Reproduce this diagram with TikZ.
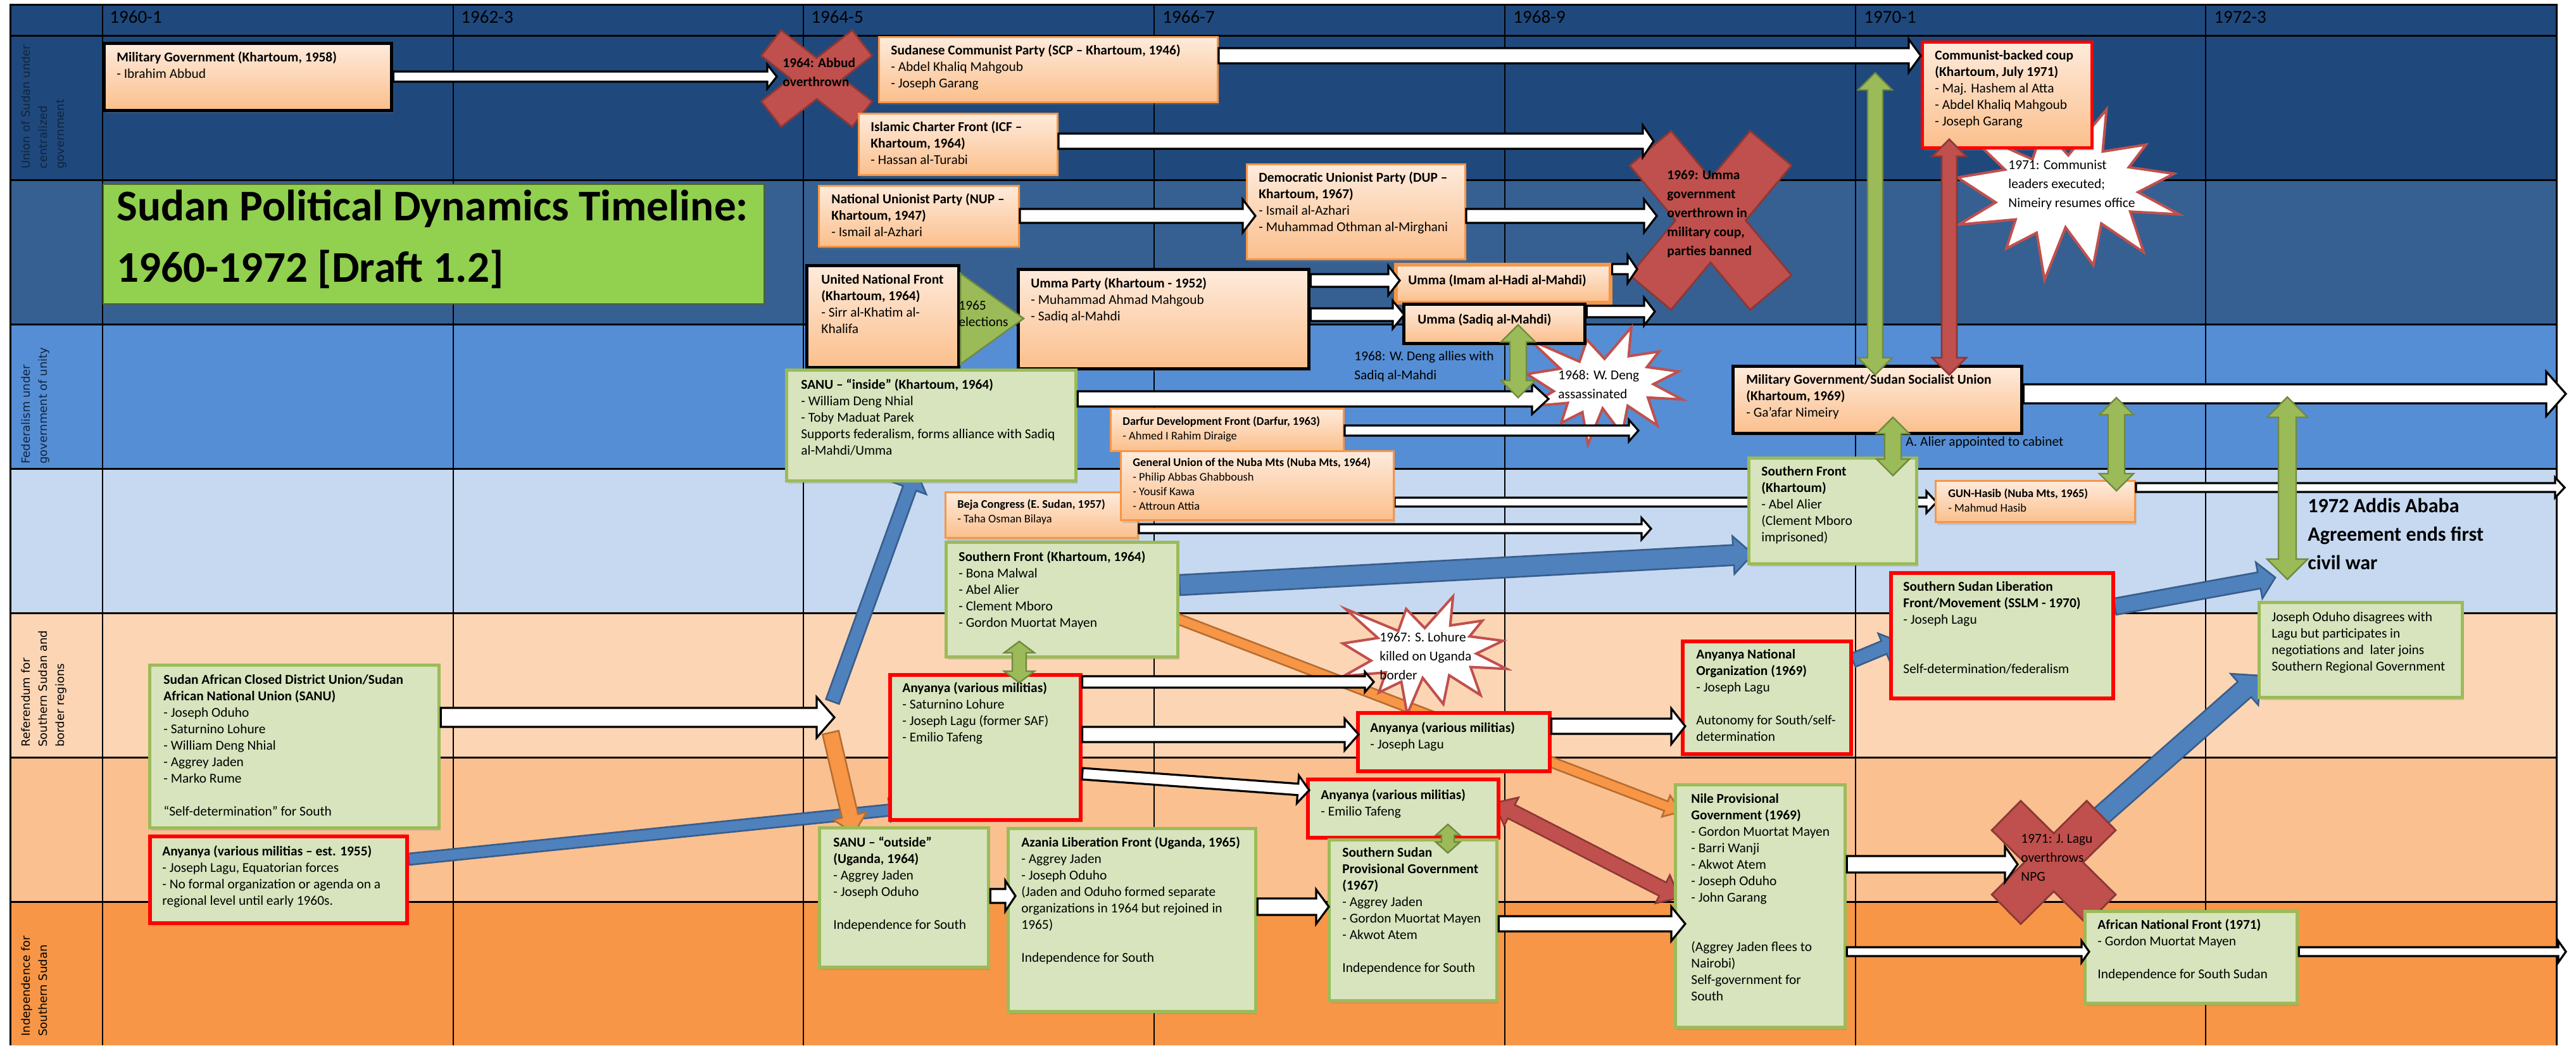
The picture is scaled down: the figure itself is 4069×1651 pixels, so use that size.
\documentclass[tikz,border=0pt]{standalone}
\usepackage{fontspec}
\setmainfont{Carlito}
\newfontfamily\labfam{DejaVu Sans}
\usetikzlibrary{calc,shadows}
\pgfdeclarelayer{back}
\pgfdeclarelayer{mid}
\pgfsetlayers{back,mid,main}
\definecolor{hdr}{HTML}{1F497D}
\definecolor{bandB}{HTML}{366092}
\definecolor{bandC}{HTML}{558ED5}
\definecolor{bandD}{HTML}{C6D9F1}
\definecolor{bandE}{HTML}{FCD5B5}
\definecolor{bandF}{HTML}{FAC090}
\definecolor{bandG}{HTML}{F79646}
\definecolor{otop}{HTML}{FEEBDC}
\definecolor{obot}{HTML}{FBBF8C}
\definecolor{oline}{HTML}{F79646}
\definecolor{gfill}{HTML}{D7E4BD}
\definecolor{gline}{HTML}{9BBB59}
\definecolor{gdark}{HTML}{71893F}
\definecolor{bfill}{HTML}{4F81BD}
\definecolor{bline}{HTML}{385D8A}
\definecolor{ofill}{HTML}{F79646}
\definecolor{oedge}{HTML}{B66D31}
\definecolor{rfill}{HTML}{C0504D}
\definecolor{redge}{HTML}{8C3836}
\definecolor{titleg}{HTML}{92D050}
\definecolor{titleline}{HTML}{4F6228}
\definecolor{labnavy}{HTML}{10243E}
\newcommand\fBody{\fontsize{10.7}{13}\selectfont}
\newcommand\fSmall{\fontsize{9.2}{11.6}\selectfont}
\newcommand\fCall{\fontsize{10.7}{15}\selectfont}
\newcommand\fBig{\fontsize{16}{22.5}\selectfont\bfseries}
\newcommand\fTitle{\fontsize{34.6}{48.5}\selectfont\bfseries}
\newcommand\fHdr{\fontsize{14.5}{17}\selectfont}
\newcommand\fLab{\labfam\fontsize{9}{13.5}\selectfont}
\newcommand\arrowsetup[5]{%
  \path (#1); \pgfgetlastxy{\baXa}{\baYa}%
  \path (#2); \pgfgetlastxy{\baXb}{\baYb}%
  \pgfmathsetmacro\bxa{(\baXa)/0.5}%
  \pgfmathsetmacro\bya{0-(\baYa)/0.5}%
  \pgfmathsetmacro\bxb{(\baXb)/0.5}%
  \pgfmathsetmacro\byb{0-(\baYb)/0.5}%
  \pgfmathsetmacro\bdx{\bxb-(\bxa)}%
  \pgfmathsetmacro\bdy{\byb-(\bya)}%
  \pgfmathsetmacro\bln{veclen(\bdx,\bdy)}%
  \pgfmathsetmacro\bux{(\bdx)/\bln}%
  \pgfmathsetmacro\buy{(\bdy)/\bln}%
  \pgfmathsetmacro\bsx{(#3)*(\buy)}%
  \pgfmathsetmacro\bsy{(#3)*(\bux)}%
  \pgfmathsetmacro\bHx{(#4)*(\buy)}%
  \pgfmathsetmacro\bHy{(#4)*(\bux)}%
  \pgfmathsetmacro\bhx{\bxb-(#5)*(\bux)}%
  \pgfmathsetmacro\bhy{\byb-(#5)*(\buy)}%
  \pgfmathsetmacro\btx{\bxa+(#5)*(\bux)}%
  \pgfmathsetmacro\bty{\bya+(#5)*(\buy)}}
\newcommand\blkarrow[6][]{%
  \arrowsetup{#2}{#3}{#4}{#5}{#6}%
  \draw[#1] ({\bxa-(\bsx)},{\bya+(\bsy)}) -- ({\bhx-(\bsx)},{\bhy+(\bsy)}) -- ({\bhx-(\bHx)},{\bhy+(\bHy)}) -- (\bxb,\byb) -- ({\bhx+(\bHx)},{\bhy-(\bHy)}) -- ({\bhx+(\bsx)},{\bhy-(\bsy)}) -- ({\bxa+(\bsx)},{\bya-(\bsy)}) -- cycle;}
\newcommand\dblarrow[6][]{%
  \arrowsetup{#2}{#3}{#4}{#5}{#6}%
  \draw[#1] (\bxa,\bya) -- ({\btx-(\bHx)},{\bty+(\bHy)}) -- ({\btx-(\bsx)},{\bty+(\bsy)}) -- ({\bhx-(\bsx)},{\bhy+(\bsy)}) -- ({\bhx-(\bHx)},{\bhy+(\bHy)}) -- (\bxb,\byb) -- ({\bhx+(\bHx)},{\bhy-(\bHy)}) -- ({\bhx+(\bsx)},{\bhy-(\bsy)}) -- ({\btx+(\bsx)},{\bty-(\bsy)}) -- ({\btx+(\bHx)},{\bty-(\bHy)}) -- cycle;}
\newcommand\xshape[5]{%
  \draw[redge, line width=#5*0.5pt] (#1-#3,#2-#4) -- (#1+#3,#2+#4);
  \draw[redge, line width=#5*0.5pt] (#1+#3,#2-#4) -- (#1-#3,#2+#4);
  \draw[rfill, line width=#5*0.5pt-3pt, shorten <=1.5pt, shorten >=1.5pt] (#1-#3,#2-#4) -- (#1+#3,#2+#4);
  \draw[rfill, line width=#5*0.5pt-3pt, shorten <=1.5pt, shorten >=1.5pt] (#1+#3,#2-#4) -- (#1-#3,#2+#4);}
\newcommand\boom[4]{%
  \begin{scope}[shift={(#1,#2)},xscale=#3/100,yscale=#4/100]
  \draw[fill=white, draw=rfill, line width=2pt, line join=miter, miter limit=6] (50,26.85) -- (67.23,0) -- (65.53,24.65) -- (85.09,20.63) -- (77.32,33.87) -- (97.67,37.67) -- (81.51,48.50) -- (100,61.53) -- (77.95,59.92) -- (84.00,83.77) -- (64.91,66.93) -- (61.33,91.38) -- (48.76,69.14) -- (39.28,100) -- (35.72,72.35) -- (22.05,81.56) -- (26.24,64.52) -- (0.63,67.53) -- (17.23,54.51) -- (0,39.88) -- (21.42,35.26) -- (1.71,10.63) -- (33.85,29.26) -- (38.67,10.63) -- cycle;
  \end{scope}}
\begin{document}
\begin{tikzpicture}[x=0.5pt,y=-0.5pt]
\tikzset{
 boxat/.style n args={4}{anchor=north west, inner sep=0pt, minimum width={(#3-#1)*0.5pt}, minimum height={(#4-#2)*0.5pt}, at={(#1,#2)}},
 shad/.style={drop shadow={shadow xshift=1pt, shadow yshift=-2pt, opacity=0.25}},
 obox/.style={shad, draw=oline, line width=1.5pt, top color=otop, bottom color=obot},
 kbox/.style={shad, draw=black, line width=2.6pt, top color=otop, bottom color=obot},
 ibox/.style={shad, draw=oline, line width=2.8pt, top color=otop, bottom color=obot},
 cbox/.style={shad, draw=red, line width=2.6pt, top color=otop, bottom color=obot},
 gbox/.style={shad, draw=gline, line width=2.6pt, fill=gfill},
 rbox/.style={shad, draw=red, line width=2.8pt, fill=gfill},
 titlebox/.style={draw=titleline, line width=0.8pt, fill=titleg},
 txtb/.style={anchor=north west, align=left, inner sep=0pt, font=\fBody, execute at begin node=\strut},
 txts/.style={anchor=north west, align=left, inner sep=0pt, font=\fSmall, execute at begin node=\strut},
 txtc/.style={anchor=north west, align=left, inner sep=0pt, font=\fCall, execute at begin node=\strut},
 labl/.style={rotate=90, anchor=north west, align=left, inner sep=0pt, font=\fLab, execute at begin node=\strut},
 warr/.style={fill=white, draw=black, line width=1.6pt, line join=miter},
 barr/.style={fill=bfill, draw=bline, line width=1.3pt, line join=miter},
 oarr/.style={fill=ofill, draw=oedge, line width=1.3pt, line join=miter},
 rarr/.style={fill=rfill, draw=redge, line width=1.3pt, line join=miter},
 garr/.style={fill=gline, draw=gdark, line width=1.2pt, line join=miter},
}
\useasboundingbox (0,0) rectangle (4069,1651);
% ---------------- background grid
\begin{pgfonlayer}{back}
\fill[white] (0,0) rectangle (4069,1651);
\fill[hdr] (16,7) rectangle (4038,284);
\fill[bandB] (16,284) rectangle (4038,512);
\fill[bandC] (16,512) rectangle (4038,740);
\fill[bandD] (16,740) rectangle (4038,968);
\fill[bandE] (16,968) rectangle (4038,1196);
\fill[bandF] (16,1196) rectangle (4038,1424);
\fill[bandG] (16,1424) rectangle (4038,1651);
\foreach \yy in {56,284,512,740,968,1196,1424} \draw[line width=1.5pt] (16,\yy) -- (4038,\yy);
\foreach \xx in {162,716,1269,1823,2377,2931,3484} \draw[line width=1pt] (\xx,7) -- (\xx,1651);
\draw[line width=1.5pt] (16,1651) -- (16,7) -- (4038,7) -- (4038,1651);
\foreach \xx/\tt in {173/1960-1,728/1962-3,1281/1964-5,1836/1966-7,2390/1968-9,2944/1970-1,3497/1972-3}
  \node[anchor=base west, inner sep=0pt, font=\fHdr] (yr\xx) at (\xx,36) {\tt};
\node[labl, text=labnavy] (lab1) at (33,267) {Union of Sudan under\\centralized\\government};
\node[labl, text=labnavy] (lab3) at (33,733) {Federalism under\\government of unity};
\node[labl] (lab5) at (33,1180) {Referendum for\\Southern Sudan and\\border regions};
\node[labl] (lab7) at (33,1637) {Independence for\\Southern Sudan};
\node[titlebox, boxat={162}{290}{1206}{479}] (title) {};
\node[anchor=north west, align=left, inner sep=0pt, font=\fTitle, execute at begin node=\strut] (title-t) at (184,299) {Sudan Political Dynamics Timeline:\\1960-1972 [Draft 1.2]};
\end{pgfonlayer}
% ---------------- boxes
\node[kbox, boxat={162}{66}{616}{172}] (mil58) {};
\node[txtb] (mil58-t) at (184,81) {\textbf{Military Government (Khartoum, 1958)}\\- Ibrahim Abbud};
\node[obox, boxat={1387}{57}{1922}{160}] (scp) {};
\node[txtb] (scp-t) at (1407,70) {\textbf{Sudanese Communist Party (SCP – Khartoum, 1946)}\\- Abdel Khaliq Mahgoub\\- Joseph Garang};
\node[obox, boxat={1355}{178}{1669}{275}] (icf) {};
\node[txtb] (icf-t) at (1375,191) {\textbf{Islamic Charter Front (ICF –}\\\textbf{Khartoum, 1964)}\\- Hassan al-Turabi};
\node[obox, boxat={1292}{292}{1608}{388}] (nup) {};
\node[txtb] (nup-t) at (1313,305) {\textbf{National Unionist Party (NUP –}\\\textbf{Khartoum, 1947)}\\- Ismail al-Azhari};
\node[obox, boxat={1968}{258}{2313}{408}] (dup) {};
\node[txtb] (dup-t) at (1988,271) {\textbf{Democratic Unionist Party (DUP –}\\\textbf{Khartoum, 1967)}\\- Ismail al-Azhari\\- Muhammad Othman al-Mirghani};
\node[kbox, boxat={1272}{417}{1512}{578}] (unf) {};
\node[txtb] (unf-t) at (1297,433) {\textbf{United National Front}\\\textbf{(Khartoum, 1964)}\\- Sirr al-Khatim al-\\Khalifa};
\node[kbox, boxat={1606}{423}{2065}{580}] (umma) {};
\node[txtb] (umma-t) at (1628,438) {\textbf{Umma Party (Khartoum - 1952)}\\- Muhammad Ahmad Mahgoub\\- Sadiq al-Mahdi};
\node[ibox, boxat={2202}{415}{2541}{475}] (imam) {};
\node[txtb] (imam-t) at (2224,431) {\textbf{Umma (Imam al-Hadi al-Mahdi)}};
\node[kbox, boxat={2215}{478}{2501}{540}] (sadiq) {};
\node[txtb] (sadiq-t) at (2239,493) {\textbf{Umma (Sadiq al-Mahdi)}};
\node[cbox, boxat={3034}{64}{3302}{231}] (coup) {};
\node[txtb] (coup-t) at (3056,79) {\textbf{Communist-backed coup}\\\textbf{(Khartoum, July 1971)}\\- Maj. Hashem al Atta\\- Abdel Khaliq Mahgoub\\- Joseph Garang};
\node[kbox, boxat={2735}{576}{3191}{682}] (milssu) {};
\node[txtb] (milssu-t) at (2758,591) {\textbf{Military Government/Sudan Socialist Union}\\\textbf{(Khartoum, 1969)}\\- Ga’afar Nimeiry};
\node[gbox, boxat={1240}{582}{1697}{757}] (sanuin) {};
\node[txtb] (sanuin-t) at (1265,598) {\textbf{SANU – “inside” (Khartoum, 1964)}\\- William Deng Nhial\\- Toby Maduat Parek\\Supports federalism, forms alliance with Sadiq\\al-Mahdi/Umma};
\node[obox, boxat={1753}{644}{2121}{711}] (darfur) {};
\node[txts] (darfur-t) at (1773,657) {\textbf{Darfur Development Front (Darfur, 1963)}\\- Ahmed I Rahim Diraige};
\node[obox, boxat={1492}{776}{1796}{848}] (beja) {};
\node[txts] (beja-t) at (1512,788) {\textbf{Beja Congress (E. Sudan, 1957)}\\- Taha Osman Bilaya};
\node[obox, boxat={1769}{711}{2200}{820}] (gun) {};
\node[txts] (gun-t) at (1789,722) {\textbf{General Union of the Nuba Mts (Nuba Mts, 1964)}\\- Philip Abbas Ghabboush\\- Yousif Kawa\\- Attroun Attia};
\node[obox, boxat={3056}{758}{3371}{823}] (hasib) {};
\node[txts] (hasib-t) at (3077,771) {\textbf{GUN-Hasib (Nuba Mts, 1965)}\\- Mahmud Hasib};
\node[gbox, boxat={1492}{854}{1858}{1035}] (sf64) {};
\node[txtb] (sf64-t) at (1514,870) {\textbf{Southern Front (Khartoum, 1964)}\\- Bona Malwal\\- Abel Alier\\- Clement Mboro\\- Gordon Muortat Mayen};
\node[gbox, boxat={2760}{721}{3025}{888}] (sfk) {};
\node[txtb] (sfk-t) at (2782,736) {\textbf{Southern Front}\\\textbf{(Khartoum)}\\- Abel Alier\\(Clement Mboro\\imprisoned)};
\node[gbox, boxat={234}{1048}{691}{1305}] (sacdu) {};
\node[txtb] (sacdu-t) at (258,1065) {\textbf{Sudan African Closed District Union/Sudan}\\\textbf{African National Union (SANU)}\\- Joseph Oduho\\- Saturnino Lohure\\- William Deng Nhial\\- Aggrey Jaden\\- Marko Rume\\[13pt]“Self-determination” for South};
\node[rbox, boxat={234}{1318}{640}{1455}] (any55) {};
\node[txtb] (any55-t) at (256,1335) {\textbf{Anyanya (various militias – est. 1955)}\\- Joseph Lagu, Equatorian forces\\- No formal organization or agenda on a\\regional level until early 1960s.};
\node[rbox, boxat={1403}{1063}{1704}{1292}] (anym) {};
\node[txtb] (anym-t) at (1425,1077) {\textbf{Anyanya (various militias)}\\- Saturnino Lohure\\- Joseph Lagu (former SAF)\\- Emilio Tafeng};
\node[rbox, boxat={2142}{1123}{2445}{1215}] (anyl) {};
\node[txtb] (anyl-t) at (2164,1140) {\textbf{Anyanya (various militias)}\\- Joseph Lagu};
\node[rbox, boxat={2063}{1228}{2364}{1320}] (anyt) {};
\node[txtb] (anyt-t) at (2086,1246) {\textbf{Anyanya (various militias)}\\- Emilio Tafeng};
\node[rbox, boxat={2655}{1010}{2921}{1188}] (ano) {};
\node[txtb] (ano-t) at (2679,1025) {\textbf{Anyanya National}\\\textbf{Organization (1969)}\\- Joseph Lagu\\[13pt]Autonomy for South/self-\\determination};
\node[rbox, boxat={2984}{902}{3335}{1100}] (sslm) {};
\node[txtb] (sslm-t) at (3006,918) {\textbf{Southern Sudan Liberation}\\\textbf{Front/Movement (SSLM - 1970)}\\- Joseph Lagu\\[26pt]Self-determination/federalism};
\node[gbox, boxat={3566}{949}{3887}{1099}] (oduho) {};
\node[txtb] (oduho-t) at (3588,966) {Joseph Oduho disagrees with\\Lagu but participates in\\negotiations and \ later joins\\Southern Regional Government};
\node[gbox, boxat={1292}{1305}{1559}{1525}] (sanuout) {};
\node[txtb] (sanuout-t) at (1316,1321) {\textbf{SANU – “outside”}\\\textbf{(Uganda, 1964)}\\- Aggrey Jaden\\- Joseph Oduho\\[13pt]Independence for South};
\node[gbox, boxat={1590}{1306}{1981}{1595}] (azania) {};
\node[txtb] (azania-t) at (1613,1321) {\textbf{Azania Liberation Front (Uganda, 1965)}\\- Aggrey Jaden\\- Joseph Oduho\\(Jaden and Oduho formed separate\\organizations in 1964 but rejoined in\\1965)\\[13pt]Independence for South};
\node[gbox, boxat={2097}{1324}{2362}{1578}] (sspg) {};
\node[txtb] (sspg-t) at (2120,1338) {\textbf{Southern Sudan}\\\textbf{Provisional Government}\\\textbf{(1967)}\\- Aggrey Jaden\\- Gordon Muortat Mayen\\- Akwot Atem\\[13pt]Independence for South};
\node[gbox, boxat={2644}{1237}{2912}{1620}] (npg) {};
\node[txtb] (npg-t) at (2671,1253) {\textbf{Nile Provisional}\\\textbf{Government (1969)}\\- Gordon Muortat Mayen\\- Barri Wanji\\- Akwot Atem\\- Joseph Oduho\\- John Garang\\[26pt](Aggrey Jaden flees to\\Nairobi)\\Self-government for\\South};
\node[gbox, boxat={3291}{1437}{3626}{1582}] (anf) {};
\node[txtb] (anf-t) at (3313,1451) {\textbf{African National Front (1971)}\\- Gordon Muortat Mayen\\[13pt]Independence for South Sudan};
% ---------------- free ends
\coordinate (b1s) at (1315,1108); \coordinate (b1e) at (1447,743);
\coordinate (b4e) at (3594,912); \coordinate (b6s) at (3300,1305);
\coordinate (o1s) at (1312,1157); \coordinate (o1e) at (1349,1316);
\coordinate (e64) at (1227,121); \coordinate (e69a) at (2612,223); \coordinate (e69b) at (2617,341);
\coordinate (eimam) at (2586,425); \coordinate (esadiq) at (2614,492); \coordinate (esanu) at (2446,630);
\coordinate (edarfur) at (2588,680); \coordinate (ebeja) at (2608,835); \coordinate (ehasib) at (4051,770);
\coordinate (essu) at (4053,622); \coordinate (esacdu) at (1318,1133); \coordinate (eany) at (2170,1077);
\coordinate (enpg) at (3187,1365); \coordinate (eanf) at (4053,1503);
\coordinate (g1a) at (2398,513); \coordinate (g1b) at (2398,628);
\coordinate (g2a) at (2962,115); \coordinate (g2b) at (2962,592);
\coordinate (g3a) at (3079,220); \coordinate (g3b) at (3079,592);
\coordinate (g4a) at (2990,659); \coordinate (g4b) at (2990,751);
\coordinate (g5a) at (3343,628); \coordinate (g5b) at (3343,775);
\coordinate (g6a) at (3613,627); \coordinate (g6b) at (3613,915);
\coordinate (g7a) at (1610,1013); \coordinate (g7b) at (1610,1078);
\coordinate (g8a) at (2287,1302); \coordinate (g8b) at (2287,1347);
% ---------------- under-box layer
\begin{pgfonlayer}{mid}
\blkarrow[barr]{b1s}{b1e}{11}{28}{30}
\blkarrow[barr]{any55.east |- 0,1357}{$(anym.west |- 0,1277)+(26,0)$}{9}{18}{24}
\blkarrow[barr]{sf64.east |- 0,924}{$(sfk.west |- 0,875)+(9,0)$}{16}{30}{31}
\blkarrow[barr]{sslm.east |- 0,958}{b4e}{13}{29}{26}
\blkarrow[barr]{ano.east |- 0,1043}{$(sslm.west |- 0,1013)+(15,0)$}{11}{24}{25}
\blkarrow[barr]{b6s}{$(oduho.west |- 0,1067)+(4,0)$}{16}{33}{33}
\blkarrow[oarr]{o1s}{o1e}{13}{27}{28}
\blkarrow[oarr]{$(sf64.east |- 0,977)+(-4,0)$}{$(npg.west |- 0,1282)+(11,0)$}{8}{18}{25}
\dblarrow[rarr]{$(anyt.east |- 0,1268)+(-9,0)$}{$(npg.west |- 0,1418)+(9,0)$}{12}{25}{30}
\xshape{1290}{124}{73}{57}{54}
\xshape{2702}{348}{96}{115}{88}
\xshape{3244}{1362}{76}{75}{68}
\boom{3092}{173}{350}{269}
\boom{2412}{517}{245}{185}
\boom{2121}{942}{259}{186}
\blkarrow[warr]{gun.east |- 0,793}{$(hasib.west |- 0,793)+(3,0)$}{7}{17}{16}
\end{pgfonlayer}
% ---------------- white block arrows
\blkarrow[warr]{mil58.east |- 0,121}{e64}{8}{19}{15}
\blkarrow[warr]{scp.east |- 0,88}{coup.west |- 0,88}{12}{26}{19}
\blkarrow[warr]{icf.east |- 0,223}{e69a}{12}{25}{17}
\blkarrow[warr]{nup.east |- 0,341}{$(dup.west |- 0,341)+(15,0)$}{11}{26}{20}
\blkarrow[warr]{dup.east |- 0,341}{e69b}{11}{26}{20}
\blkarrow[warr]{umma.east |- 0,443}{$(imam.west |- 0,443)+(9,0)$}{10}{23}{18}
\blkarrow[warr]{umma.east |- 0,497}{$(sadiq.west |- 0,497)+(3,0)$}{10}{22}{18}
\blkarrow[warr]{imam.east |- 0,425}{eimam}{8}{22}{15}
\blkarrow[warr]{sadiq.east |- 0,492}{esadiq}{9}{22}{17}
\blkarrow[warr]{sanuin.east |- 0,630}{esanu}{12}{24}{26}
\blkarrow[warr]{darfur.east |- 0,680}{edarfur}{8}{17}{15}
\blkarrow[warr]{beja.east |- 0,835}{ebeja}{7}{17}{15}
\blkarrow[warr]{hasib.east |- 0,770}{ehasib}{7}{16}{15}
\blkarrow[warr]{milssu.east |- 0,622}{essu}{15}{35}{31}
\blkarrow[warr]{sacdu.east |- 0,1133}{esacdu}{15}{32}{28}
\blkarrow[warr]{anym.east |- 0,1077}{eany}{9}{16}{14}
\blkarrow[warr]{anym.east |- 0,1160}{$(anyl.west |- 0,1160)+(4,0)$}{12}{25}{22}
\blkarrow[warr]{anym.east |- 0,1222}{$(anyt.west |- 0,1248)+(5,0)$}{9}{22}{18}
\blkarrow[warr]{sanuout.east |- 0,1415}{$(azania.west |- 0,1415)+(14,0)$}{11}{24}{16}
\blkarrow[warr]{azania.east |- 0,1432}{$(sspg.west |- 0,1432)+(2,0)$}{13}{27}{20}
\blkarrow[warr]{sspg.east |- 0,1459}{$(npg.west |- 0,1459)+(18,0)$}{12}{27}{22}
\blkarrow[warr]{npg.east |- 0,1365}{enpg}{13}{28}{20}
\blkarrow[warr]{npg.east |- 0,1503}{$(anf.west |- 0,1503)+(9,0)$}{7}{17}{12}
\blkarrow[warr]{anf.east |- 0,1503}{eanf}{7}{17}{12}
\blkarrow[warr]{anyl.east |- 0,1147}{$(ano.west |- 0,1147)+(7,0)$}{12}{28}{22}
% ---------------- double arrows
\dblarrow[garr]{g1a}{g1b}{13}{27}{27}
\dblarrow[garr]{g2a}{g2b}{12}{27}{27}
\dblarrow[rarr]{g3a}{g3b}{12}{27}{27}
\dblarrow[garr]{g4a}{g4b}{13}{26}{26}
\dblarrow[garr]{g5a}{g5b}{13}{27}{27}
\dblarrow[garr]{g6a}{g6b}{14}{32}{32}
\dblarrow[garr]{g7a}{g7b}{11}{24}{18}
\dblarrow[garr]{g8a}{g8b}{10}{19}{17}
% ---------------- election triangle
\draw[garr] (unf.east |- 0,432) -- (1617,503) -- (unf.east |- 0,575) -- cycle;
\node[txtb] (elect) at (1514,475) {1965\\elections};
% ---------------- callout texts
\node[txtc, font=\fCall\bfseries] (x64-t) at (1236,91) {1964: Abbud\\overthrown};
\node[txtc, font=\fCall\bfseries] (x69-t) at (2633,268) {1969: Umma\\government\\overthrown in\\military coup,\\parties banned};
\node[txtc] (x71-t) at (3192,1317) {1971: J. Lagu\\overthrows\\NPG};
\node[txtc] (s71-t) at (3172,252) {1971: Communist\\leaders executed;\\Nimeiry resumes office};
\node[txtc] (s68-t) at (2461,584) {1968: W. Deng\\assassinated};
\node[txtc] (s67-t) at (2179,998) {1967: S. Lohure\\killed on Uganda\\border};
\node[txtc] (deng-t) at (2139,554) {1968: W. Deng allies with\\Sadiq al-Mahdi};
\node[txtb] (alier-t) at (3010,686) {A. Alier appointed to cabinet};
\node[anchor=north west, align=left, inner sep=0pt, font=\fBig, execute at begin node=\strut] (addis-t) at (3645,787) {1972 Addis Ababa\\Agreement ends first\\civil war};
\end{tikzpicture}
\end{document}
